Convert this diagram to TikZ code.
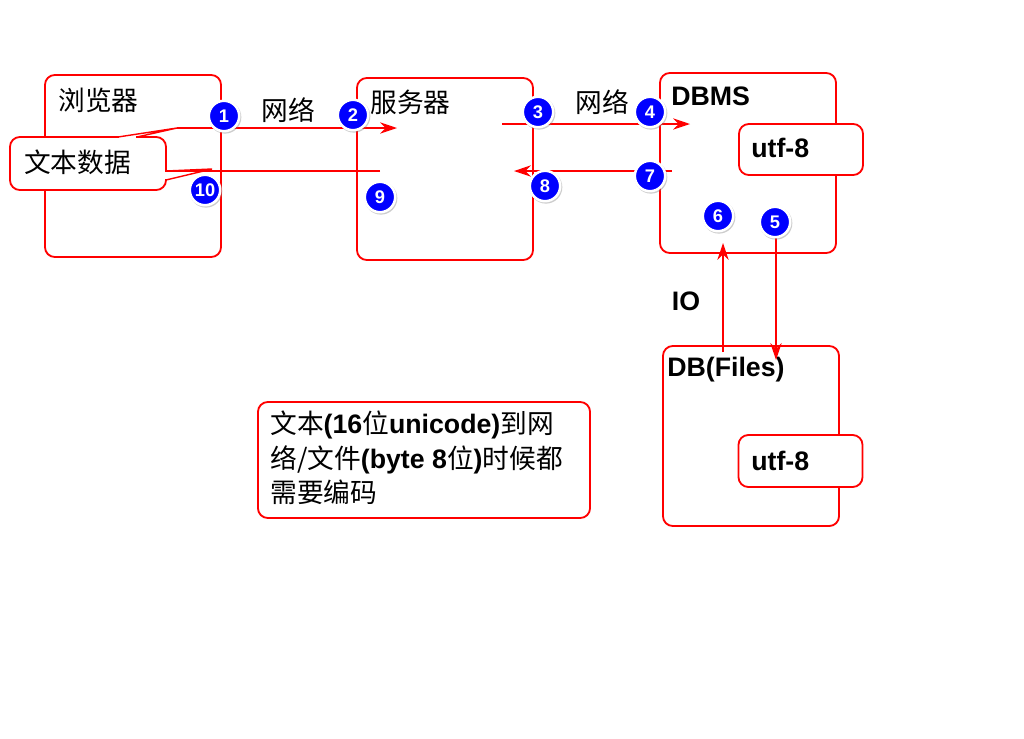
\documentclass[tikz,border=0pt]{standalone}
\usepackage{fontspec}
\setmainfont{Liberation Sans}
\newfontfamily\cjk{Noto Sans CJK SC}
\usepackage{tikz}
\usetikzlibrary{arrows.meta,shadows}
\newcommand{\zh}[1]{{\cjk #1}}
\newcommand{\en}[1]{{\bfseries #1}}

\begin{document}
\begin{tikzpicture}[x=0.025cm,y=-0.025cm]
\tikzstyle{every node}+=[inner sep=0pt, font=\fontsize{19}{23}\selectfont]
\tikzstyle{box}=[draw=red, line width=1.3pt, rounded corners=7pt, fill=white]
\tikzstyle{link}=[red, line width=1pt]
\tikzstyle{tip}=[-{Stealth[length=12pt,width=8pt,inset=4pt]}]
\tikzstyle{num}=[circle, fill=blue, draw=white, line width=1.8pt, minimum size=0.76cm, text=white, font=\fontsize{13}{13}\selectfont\bfseries, drop shadow={shadow xshift=0.6pt, shadow yshift=-0.8pt, shadow scale=1.08, opacity=0.4}]
\useasboundingbox (0,0) rectangle (1024,738);
% main boxes
\node[box, minimum width=4.4cm, minimum height=4.55cm] (browser) at (133,166) {};
\node[box, minimum width=4.4cm, minimum height=4.55cm] (server) at (445,169) {};
\node[box, minimum width=4.4cm, minimum height=4.5cm] (dbms) at (748,163) {};
\node[box, minimum width=4.4cm, minimum height=4.5cm] (files) at (751,436) {};
\node[box, minimum width=8.3cm, minimum height=2.9cm] (note) at (424,460) {};
\node[anchor=west] (browserlbl) at (58,100) {\zh{浏览器}};
\node[anchor=west] (serverlbl) at (370,102) {\zh{服务器}};
\node[anchor=west] (dbmslbl) at (671,96) {\en{DBMS}};
\node[anchor=west] (fileslbl) at (667,370) {\en{DB(Files)}};
\node (net1) at (288,110) {\zh{网络}};
\node (net2) at (602,102) {\zh{网络}};
\node (io) at (686,301) {\en{IO}};
% callout
\node[box, minimum width=3.9cm, minimum height=1.325cm] (data) at (88,163.5) {};
\coordinate (dataTip) at (177,128);
\coordinate (dataRet) at (166,171);
\coordinate (retTip) at (212,169);
\fill[white] (119,134) rectangle (136,140);
\fill[white] (162,172) rectangle (169,179);
\draw[link] (118,137) -- (dataTip) -- (137,137);
\draw[link] (dataRet) -- (retTip) -- (166,180);
\node[anchor=west] (datalbl) at (24,162) {\zh{文本数据}};
% arrows
\coordinate (srvIn) at (397,128);
\coordinate (srvOut) at (502,124);
\coordinate (dbIn) at (690,124);
\coordinate (dbOut) at (672,171);
\coordinate (srvBack) at (514,171);
\coordinate (srvLeft) at (380,171);
\coordinate (upFrom) at (723,352);
\coordinate (upTo) at (723,243);
\coordinate (downFrom) at (776,235);
\coordinate (downTo) at (776,360);
\draw[link, tip] (dataTip) -- (srvIn);
\draw[link, tip] (srvOut) -- (dbIn);
\draw[link, tip] (dbOut) -- (srvBack);
\draw[link] (srvLeft) -- (dataRet);
\draw[link, tip] (upFrom) -- (upTo);
\draw[link, tip] (downFrom) -- (downTo);
% encodings
\node[box, minimum width=3.1cm, minimum height=1.275cm] (dbmsenc) at (801,149.5) {};
\node[anchor=west] (dbmsenclbl) at (751,148) {\en{utf-8}};
\node[box, minimum width=3.1cm, minimum height=1.3cm] (filesenc) at (800.5,461) {};
\node[anchor=west] (filesenclbl) at (751,461) {\en{utf-8}};
\node[anchor=north west, align=left, font=\fontsize{19}{24.5}\selectfont] (notetxt) at (270,411)
  {\zh{文本}\en{(16}\zh{位}\en{unicode)}\zh{到网}\\
   \zh{络/文件}\en{(byte 8}\zh{位}\en{)}\zh{时候都}\\
   \zh{需要编码}};
% steps
\foreach \n/\x/\y in {1/224/116, 2/353/115, 3/538/112, 4/650/112, 5/775/222,
  6/718/216, 7/650/176, 8/545/186, 9/380/197, 10/205/190}
  \node[num] (n\n) at (\x,\y) {\n};
\end{tikzpicture}
\end{document}
